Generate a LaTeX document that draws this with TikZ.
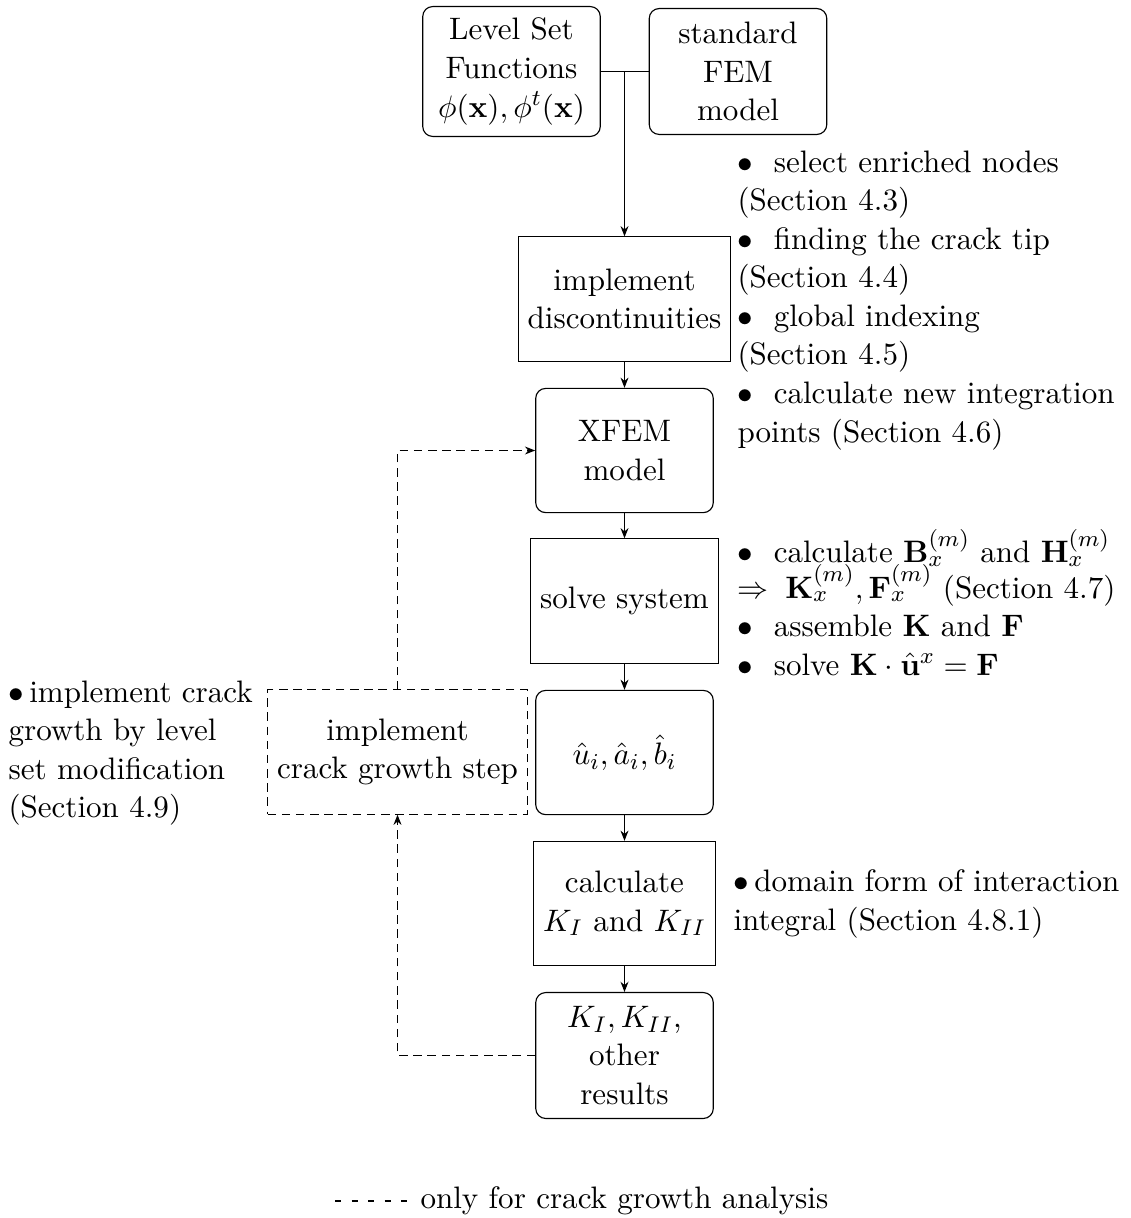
\documentclass[11pt,tikz,border=0pt]{standalone}
\usetikzlibrary{arrows.meta}
\begin{document}
\begin{tikzpicture}[x=0.35261pt,y=-0.35261pt,
  box/.style={draw, line width=0.4pt, align=center, minimum width=62.6pt,
              minimum height=43.8pt, inner sep=3.33pt},
  rbox/.style={box, rounded corners=3.5pt},
  dbox/.style={box, densely dashed},
  flow/.style={-{Stealth[length=3.6pt,width=2.8pt]}},
  fb/.style={flow, densely dashed},
  note/.style={anchor=north west, inner sep=0pt, align=left}]
\useasboundingbox (0,0) rectangle (1130,1218);

% main chain of the analysis
\node[rbox, minimum height=45.8pt] (lsf) at (511.5,71.5)
  {Level Set\\Functions\\$\phi(\mathbf{x}),\phi^t(\mathbf{x})$};
\node[rbox, minimum height=44.4pt] (fem) at (738,71.5) {standard\\FEM\\model};
\node[box] (impl) at (624.5,299) {implement\\discontinuities};
\node[rbox] (xfem) at (624.5,450.5) {XFEM\\model};
\node[box] (solve) at (624.5,601) {solve system};
\node[rbox] (uhat) at (624.5,752.5) {$\hat{u}_i,\hat{a}_i,\hat{b}_i$};
\node[box] (calck) at (624.5,903.5) {calculate\\$K_I$ and $K_{II}$};
\node[rbox, minimum height=44.4pt] (kres) at (624.5,1055.5) {$K_I,K_{II}$,\\other\\results};
\node[dbox] (grow) at (397.5,752) {implement\\crack growth step};

% connectors
\coordinate (join) at (624.5,71.5);
\draw (lsf.east) -- (fem.west);
\draw[flow] (join) -- (impl.north);
\draw[flow] (impl) -- (xfem);
\draw[flow] (xfem) -- (solve);
\draw[flow] (solve) -- (uhat);
\draw[flow] (uhat) -- (calck);
\draw[flow] (calck) -- (kres);
\draw[fb] (grow.north) |- (xfem.west);
\draw[fb] (kres.west) -| (grow.south);

% side notes
\node[note] (n1) at (737,150)
  {$\bullet$\ \ select enriched nodes\\(Section 4.3)\\
   $\bullet$\ \ finding the crack tip\\(Section 4.4)\\
   $\bullet$\ \ global indexing\\(Section 4.5)\\
   $\bullet$\ \ calculate new integration\\points (Section 4.6)};
\node[note] (n2) at (737,529)
  {$\bullet$\ \ calculate $\mathbf{B}_x^{(m)}$ and $\mathbf{H}_x^{(m)}$\\[-1.2pt]
   $\Rightarrow$\hspace{5.9pt}$\mathbf{K}_x^{(m)},\mathbf{F}_x^{(m)}$ (Section 4.7)\\
   $\bullet$\ \ assemble $\mathbf{K}$ and $\mathbf{F}$\\
   $\bullet$\ \ solve $\mathbf{K}\cdot\hat{\mathbf{u}}^x=\mathbf{F}$};
\node[note] (n3) at (733,869)
  {$\bullet$\,domain form of interaction\\integral (Section 4.8.1)};
\node[note] (n4) at (8,680)
  {$\bullet$\,implement crack\\growth by level\\set modification\\(Section 4.9)};

% legend
\coordinate (la) at (335,1201);
\coordinate (lb) at (407,1201);
\draw[dash pattern=on 2.12pt off 3.7pt] (la) -- (lb);
\node[anchor=base west, inner sep=0pt] (leg) at (420,1208) {only for crack growth analysis};
\end{tikzpicture}
\end{document}
